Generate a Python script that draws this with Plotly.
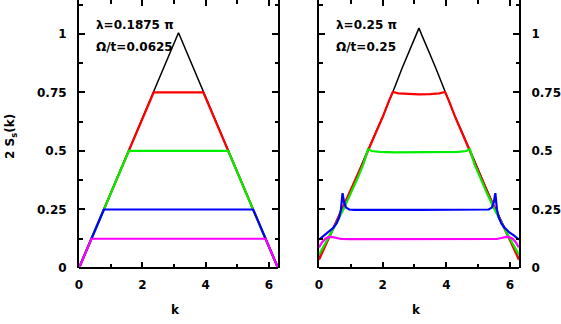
import plotly.graph_objects as go

# ---------------- data ----------------
# left panel: lambda = 0.1875 pi, Omega/t = 0.0625
kL_black = [0.0, 3.1416, 6.2832]
yL_black = [0.0, 1.005, 0.0]
kL_red = [0.0, 2.356, 3.927, 6.2832]
yL_red = [0.0, 0.75, 0.75, 0.0]
kL_green = [0.0, 1.571, 4.712, 6.2832]
yL_green = [0.0, 0.5, 0.5, 0.0]
kL_blue = [0.0, 0.785, 5.498, 6.2832]
yL_blue = [0.0, 0.25, 0.25, 0.0]
kL_magenta = [0.0, 0.393, 5.890, 6.2832]
yL_magenta = [0.0, 0.125, 0.125, 0.0]

# right panel: lambda = 0.25 pi, Omega/t = 0.25
kR_black = [0, 0.2, 0.4, 0.6, 0.8, 1.0, 1.2, 1.4, 1.6, 1.8, 2.0, 2.2, 2.4, 2.6, 2.8, 2.95, 3.05,
            3.14,
            3.23, 3.33, 3.48, 3.68, 3.88, 4.08, 4.28, 4.48, 4.68, 4.88, 5.08, 5.28, 5.48, 5.68, 5.88, 6.08, 6.28]
yR_black = [0.04, 0.10, 0.16, 0.215, 0.27, 0.33, 0.395, 0.46, 0.525, 0.585, 0.645, 0.71, 0.78, 0.85, 0.915, 0.965, 0.995,
            1.025,
            0.995, 0.965, 0.915, 0.85, 0.78, 0.71, 0.645, 0.585, 0.525, 0.46, 0.395, 0.33, 0.27, 0.215, 0.16, 0.10, 0.04]

kR_red = [0, 0.2, 0.4, 0.6, 0.8, 1.0, 1.2, 1.4, 1.6, 1.8, 2.0, 2.2, 2.32, 2.5, 2.8,
          3.14,
          3.48, 3.78, 3.96, 4.08, 4.28, 4.48, 4.68, 4.88, 5.08, 5.28, 5.48, 5.68, 5.88, 6.08, 6.28]
yR_red = [0.035, 0.095, 0.155, 0.212, 0.268, 0.328, 0.39, 0.455, 0.52, 0.58, 0.645, 0.715, 0.752, 0.746, 0.743,
          0.742,
          0.743, 0.746, 0.752, 0.715, 0.645, 0.58, 0.52, 0.455, 0.39, 0.328, 0.268, 0.212, 0.155, 0.095, 0.035]

kR_green = [0, 0.2, 0.4, 0.6, 0.8, 1.0, 1.2, 1.4, 1.54, 1.65, 1.9, 2.4,
            3.14,
            3.88, 4.38, 4.63, 4.74, 4.88, 5.08, 5.28, 5.48, 5.68, 5.88, 6.08, 6.28]
yR_green = [0.057, 0.105, 0.155, 0.205, 0.26, 0.318, 0.38, 0.445, 0.508, 0.5, 0.496, 0.494,
            0.494,
            0.494, 0.496, 0.5, 0.508, 0.445, 0.38, 0.318, 0.26, 0.205, 0.155, 0.105, 0.057]

kR_blue = [0, 0.15, 0.3, 0.45, 0.55, 0.63, 0.69, 0.74, 0.79, 0.85, 0.95, 1.1,
           3.14,
           5.18, 5.33, 5.43, 5.49, 5.54, 5.59, 5.65, 5.73, 5.83, 5.98, 6.13, 6.28]
yR_blue = [0.121, 0.138, 0.152, 0.172, 0.19, 0.215, 0.25, 0.32, 0.28, 0.258, 0.25, 0.248,
           0.248,
           0.248, 0.25, 0.258, 0.28, 0.32, 0.25, 0.215, 0.19, 0.172, 0.152, 0.138, 0.121]

kR_magenta = [0, 0.1, 0.2, 0.3, 0.4, 0.55, 0.7, 1.0,
              3.14,
              5.28, 5.58, 5.73, 5.88, 5.98, 6.08, 6.18, 6.28]
yR_magenta = [0.088, 0.11, 0.125, 0.132, 0.133, 0.128, 0.124, 0.123,
              0.123,
              0.123, 0.124, 0.128, 0.133, 0.132, 0.125, 0.11, 0.088]

y_tickvals = [0, 0.25, 0.5, 0.75, 1]
y_ticktext = ["0", "0.25", "0.5", "0.75", "1"]
x_tickvals = [0, 2, 4, 6]
x_ticktext = ["0", "2", "4", "6"]

label_left = ["λ=0.1875 π", "Ω/t=0.0625"]
label_right = ["λ=0.25 π", "Ω/t=0.25"]
y_title = "2 S<sub>s</sub>(k)"
x_title = "k"

COLORS = ["#000000", "#ff0000", "#00ee00", "#0000ff", "#ff00ff"]
WIDTHS = [1.5, 2.2, 2.2, 2.2, 2.2]

FONT = "DejaVu Sans"

fig = go.Figure()

left_series = [(kL_black, yL_black), (kL_red, yL_red), (kL_green, yL_green),
               (kL_blue, yL_blue), (kL_magenta, yL_magenta)]
right_series = [(kR_black, yR_black), (kR_red, yR_red), (kR_green, yR_green),
                (kR_blue, yR_blue), (kR_magenta, yR_magenta)]

for (kx, yy), c, w in zip(left_series, COLORS, WIDTHS):
    fig.add_trace(go.Scatter(x=kx, y=yy, mode="lines", line=dict(color=c, width=w),
                             xaxis="x", yaxis="y", showlegend=False, hoverinfo="skip"))
for (kx, yy), c, w in zip(right_series, COLORS, WIDTHS):
    fig.add_trace(go.Scatter(x=kx, y=yy, mode="lines", line=dict(color=c, width=w),
                             xaxis="x2", yaxis="y2", showlegend=False, hoverinfo="skip"))

W, H = 561, 324
ML, MR, MT, MB = 79, 42, 0, 56
PW = W - ML - MR
PH = H - MT - MB
YMAX = 1.145

tickfont = dict(family=FONT, size=12, color="black", weight="bold")

xcommon = dict(range=[0, 6.2832], tickvals=x_tickvals, ticktext=x_ticktext,
               ticks="inside", ticklen=6, tickwidth=1.5, tickcolor="black",
               minor=dict(dtick=1, ticks="inside", ticklen=4, tickwidth=1.5, tickcolor="black"),
               showline=False, mirror="ticks", showgrid=False, zeroline=False,
               tickfont=tickfont, ticklabelstandoff=8, fixedrange=True)
ycommon = dict(range=[0, YMAX], tickvals=y_tickvals, ticktext=y_ticktext,
               ticks="inside", ticklen=6, tickwidth=1.5, tickcolor="black",
               minor=dict(tickvals=[0.125, 0.375, 0.625, 0.875, 1.125], ticks="inside",
                          ticklen=3.5, tickwidth=1.5, tickcolor="black"),
               showline=True, linewidth=2, linecolor="black", mirror="ticks",
               showgrid=False, zeroline=False, tickfont=tickfont, ticklabelstandoff=8,
               fixedrange=True)
# faint stray marks between the panels (gnuplot artefacts)
ghost = dict(range=[0, YMAX], tickvals=y_tickvals, ticks="outside", ticklen=2,
             tickwidth=1, tickcolor="#c8c8c8", showticklabels=False, showline=False,
             showgrid=False, zeroline=False, overlaying="y2", anchor="free", side="left",
             fixedrange=True)

fig.update_layout(
    width=W, height=H,
    margin=dict(l=ML, r=MR, t=MT, b=MB, pad=0),
    paper_bgcolor="white", plot_bgcolor="white",
    xaxis=dict(domain=[0, 199 / PW], anchor="y", **xcommon),
    xaxis2=dict(domain=[240 / PW, 1], anchor="y2", **xcommon),
    yaxis=dict(domain=[0, 1], anchor="x", side="left", **ycommon),
    yaxis2=dict(domain=[0, 1], anchor="x2", side="right", **ycommon),
    yaxis3=dict(position=(290 - ML) / PW, **ghost),
    yaxis4=dict(position=(309 - ML) / PW, **ghost),
    font=dict(family=FONT, size=12, color="black"),
)

# bottom frame lines
for xr, yr in [("x domain", "y domain"), ("x2 domain", "y2 domain")]:
    fig.add_shape(type="line", xref=xr, yref=yr, x0=0, x1=1, y0=0, y1=0,
                  line=dict(color="black", width=2))

afont = dict(family=FONT, size=12, color="black", weight="bold")
for xa, ya, labels in [("x", "y", label_left), ("x2", "y2", label_right)]:
    fig.add_annotation(x=0.47, y=1.04, xref=xa, yref=ya, text=labels[0], showarrow=False,
                       xanchor="left", yanchor="middle", font=afont)
    fig.add_annotation(x=0.47, y=0.945, xref=xa, yref=ya, text=labels[1], showarrow=False,
                       xanchor="left", yanchor="middle", font=afont)
    fig.add_annotation(x=3.06, y=(PH - 310) / PH, xref=xa, yref="paper", text=x_title,
                       showarrow=False, xanchor="center", yanchor="middle", font=afont)

fig.add_annotation(x=(11 - ML) / PW, y=(PH - 137) / PH, xref="paper", yref="paper",
                   text=y_title, textangle=-90, showarrow=False,
                   xanchor="center", yanchor="middle", font=afont)

fig.write_html("out.html", config={"displayModeBar": False},
               post_script="document.body.style.margin='0';document.body.style.overflow='hidden';")
